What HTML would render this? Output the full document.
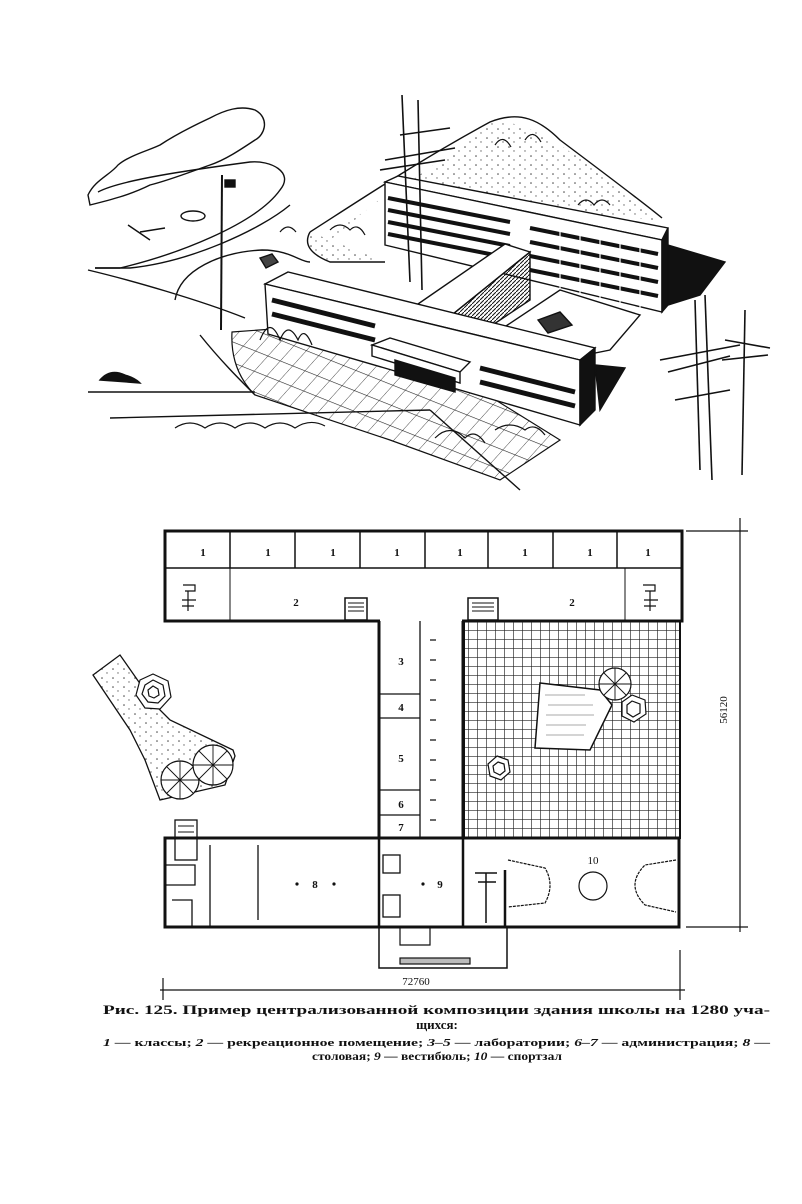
<!DOCTYPE html>
<html><head><meta charset="utf-8"><style>
html,body{margin:0;padding:0;background:#fff;}
svg{display:block;}
text{font-family:"Liberation Serif",serif;fill:#111;}
</style></head><body>
<svg width="802" height="1204" viewBox="0 0 802 1204" xmlns="http://www.w3.org/2000/svg">
<defs>
<pattern id="grid" width="9" height="9" patternUnits="userSpaceOnUse">
<path d="M0 0H9M0 0V9" stroke="#222" stroke-width="1.3" fill="none"/>
</pattern>
<pattern id="dots" width="11" height="9" patternUnits="userSpaceOnUse">
<circle cx="3" cy="3" r="0.8" fill="#444"/><circle cx="8" cy="7" r="0.7" fill="#666"/>
</pattern>
<pattern id="pave" width="16" height="16" patternUnits="userSpaceOnUse" patternTransform="skewX(-30) rotate(18)">
<path d="M0 0H16M0 0V16" stroke="#222" stroke-width="1" fill="none"/>
</pattern>
<pattern id="hatch" width="4" height="4" patternUnits="userSpaceOnUse">
<path d="M0 4L4 0" stroke="#111" stroke-width="1"/>
</pattern>
</defs>
<g fill="none" stroke="#111" stroke-width="1.4">
<path d="M310 232 C360 200 420 160 490 122 C520 110 540 120 560 140 C600 170 640 200 662 218" />
<path d="M310 232 Q300 250 330 262 L385 262" fill="url(#dots)"/>
<path d="M330 232 C370 210 430 170 490 122 C530 115 600 170 655 220 L385 195 L330 240Z" fill="url(#dots)" stroke="none"/>
<path d="M98 192 C120 180 190 170 250 162 C270 160 295 172 280 190 C255 225 175 255 120 268 L95 268"/>
<path d="M95 268 L130 268 C190 262 260 230 290 205"/>
<path d="M88 270 C130 280 200 300 245 318"/>
<path d="M175 300 C180 270 220 252 262 250 C290 250 300 262 310 262"/>
<path d="M200 335 C220 360 240 380 255 395"/>
<path d="M88 392 L255 392"/>
<path d="M110 418 L430 410"/>
<path d="M88 195 C95 180 110 175 118 165 C130 155 150 150 160 145 C175 135 195 125 210 118 C225 110 240 105 255 110 C270 118 265 135 255 140 C240 150 225 160 210 165 C190 172 170 180 150 185 C130 195 110 200 90 205Z"/>
<ellipse cx="193" cy="216" rx="12" ry="5"/>
<path d="M128 225 L150 240 M140 232 L165 228" />
<path d="M222 175 L221 330" stroke-width="2"/>
<rect x="225" y="180" width="10" height="7" fill="#111"/>
<path d="M232 332 L370 322 L560 440 L500 480 L390 440 L255 395 Q230 370 232 332Z" fill="url(#pave)" stroke-width="1.2"/>
<path d="M430 410 L520 490" />
<polygon points="385,182 398,176 668,228 662,240" fill="#fff"/>
<polygon points="385,182 662,240 662,312 385,245" fill="#fff"/>
<polygon points="662,240 668,228 668,305 662,312" fill="#111"/>
<polygon points="668,245 725,262 700,295 668,305" fill="#111"/>
<g stroke="#111" stroke-width="4">
<path d="M388 198 L510 222"/><path d="M388 210 L510 234"/><path d="M388 222 L510 246"/><path d="M388 234 L510 258"/>
<path d="M530 228 L658 254"/><path d="M530 242 L658 268"/><path d="M530 256 L658 282"/><path d="M530 270 L658 296"/>
</g>
<g stroke="#fff" stroke-width="1.2">
<path d="M560 228 V300 M580 232 V302 M600 236 V305 M620 240 V308 M640 244 V310"/>
</g>
<polygon points="418,304 505,244 530,252 448,318" fill="#fff"/>
<polygon points="448,318 530,252 530,300 470,340" fill="url(#hatch)"/>
<polygon points="500,330 560,290 640,315 610,350 560,360" fill="#fff"/>
<polygon points="538,320 560,312 572,325 548,333" fill="#333"/>
<polygon points="265,284 288,272 595,348 580,360" fill="#fff"/>
<polygon points="265,284 580,360 580,425 268,334" fill="#fff"/>
<g stroke="#111" stroke-width="5">
<path d="M272 300 L375 326"/><path d="M272 314 L375 340"/>
<path d="M480 368 L575 392"/><path d="M480 382 L575 406"/>
</g>
<polygon points="580,360 595,348 595,410 580,425" fill="#111"/>
<polygon points="595,365 625,368 600,410" fill="#111"/>
<polygon points="372,345 390,338 470,362 460,372" fill="#fff"/>
<polygon points="372,345 460,372 460,383 372,356" fill="#fff"/>
<polygon points="395,360 455,378 455,392 395,375" fill="#111"/>
<g stroke-width="1.6">
<path d="M402 95 L410 282"/><path d="M418 100 L422 290"/>
<path d="M385 160 L455 148 M380 170 L445 160 M400 135 L450 128"/>
<path d="M695 300 L700 470"/><path d="M705 295 L712 480"/><path d="M745 310 L742 475"/>
<path d="M660 360 L740 345 M668 372 L730 356 M675 400 L730 390 M725 340 L770 348 M722 360 L768 355"/>
</g>
<g stroke-width="1.2">
<path d="M260 340 q10 -25 20 0 q8 -20 18 0 q6 -15 14 5"/>
<path d="M175 428 q15 -10 30 0 q15 -10 30 0 q15 -10 30 0 q15 -10 30 0 q15 -10 30 -2"/>
<path d="M435 438 q15 -15 30 0 q10 -10 20 5"/>
<path d="M495 430 q15 -10 30 0 q10 -8 20 5"/>
<path d="M525 140 q8 -12 16 2 M495 145 q8 -12 16 2 M578 205 q8 -10 16 0 q8 -10 16 0"/>
<path d="M330 230 q10 -10 20 0 q8 -8 15 5 M280 232 q8 -10 16 0"/>
</g>
<path d="M100 380 q10 -12 25 -5 q10 3 15 8 z" fill="#111"/>
<path d="M260 258 l12 -4 l6 8 l-12 6z" fill="#444"/>
</g>

<g fill="none" stroke="#111">
<polygon points="93,675 120,655 155,705 170,720 233,750 235,756 225,785 160,800 145,760 130,730" fill="url(#dots)" stroke-width="1.3"/>
<g stroke-width="1.2" fill="#fff">
<polygon points="153,674 168,681 171,697 160,709 145,708 136,695 140,680"/>
<polygon points="153,680 163,685 165,696 158,703 148,702 142,694 145,685"/>
<polygon points="153,686 158,689 159,695 154,698 149,696 148,690"/>
<circle cx="180" cy="780" r="19"/><circle cx="213" cy="765" r="20"/>
</g>
<g stroke-width="0.9">
<path d="M161 780H199M180 761V799M167 767L193 793M193 767L167 793"/>
<path d="M193 765H233M213 745V785M199 751L227 779M227 751L199 779"/>
</g>
<rect x="165" y="531" width="517" height="90" stroke-width="3"/>
<path d="M165 568H682" stroke-width="1.5"/>
<path d="M230 531V568M295 531V568M360 531V568M425 531V568M488 531V568M553 531V568M617 531V568" stroke-width="1.5"/>
<path d="M230 568V621" stroke-width="1"/>
<path d="M625 568V621" stroke-width="1"/>
<rect x="345" y="598" width="22" height="22" stroke-width="1.5"/>
<path d="M348 603H364M348 607H364M348 611H364" stroke-width="1"/>
<rect x="468" y="598" width="30" height="22" stroke-width="1.5"/>
<path d="M472 603H494M472 607H494M472 611H494" stroke-width="1"/>
<path d="M183 585h12v6h-10 M188 591v20 M182 600h14 M182 606h12" stroke-width="1.2"/>
<path d="M643 585h12v6h-10 M650 591v20 M644 600h14 M644 606h12" stroke-width="1.2"/>
<path d="M380 621H462" stroke="#fff" stroke-width="4"/>
<path d="M379 621V838" stroke-width="3"/>
<path d="M463 621V838" stroke-width="3"/>
<path d="M420 621V838" stroke-width="1.3"/>
<path d="M379 694H420M379 718H420M379 790H420M379 815H420" stroke-width="1.3"/>
<path d="M430 640h6M430 660h6M430 680h6M430 700h6M430 720h6M430 740h6M430 760h6M430 780h6M430 800h6M430 820h6" stroke-width="1.2"/>
<rect x="464" y="621" width="216" height="217" fill="url(#grid)" stroke-width="2"/>
<polygon points="540,683 600,690 612,705 590,750 535,748" fill="#fff" stroke-width="1.5"/>
<path d="M545 695h40M548 705h45M546 715h48M546 725h40M546 735h38" stroke-width="0.6" stroke="#555"/>
<g stroke-width="1.2" fill="#fff">
<circle cx="615" cy="684" r="16"/>
<path d="M599 684H631M615 668V700M604 673L626 695M626 673L604 695" stroke-width="0.9"/>
<polygon points="632,695 645,700 646,714 634,722 622,716 622,702"/>
<polygon points="632,701 640,704 640,713 633,717 627,713 627,705"/>
<polygon points="497,756 508,760 510,772 501,780 490,776 488,764"/>
<polygon points="498,762 504,764 505,771 500,775 494,772 493,766"/>
</g>
<rect x="165" y="838" width="514" height="89" stroke-width="3"/>
<path d="M379 838V927M463 838V927M505 870V927" stroke-width="2.5"/>
<path d="M210 845V927M258 845V920" stroke-width="1.3"/>
<path d="M165 865h30v20h-30 M172 900h20v27" stroke-width="1.3"/>
<rect x="175" y="820" width="22" height="40" stroke-width="1.3"/>
<path d="M178 826h16M178 832h16M178 838h16" stroke-width="1"/>
<rect x="383" y="855" width="17" height="18" stroke-width="1.3"/>
<rect x="383" y="895" width="17" height="22" stroke-width="1.3"/>
<path d="M475 873h22M486 873v50M478 882h18" stroke-width="1.5"/>
<path d="M508 860 L545 868 Q555 885 545 903 L508 907" stroke-width="1.2" stroke-dasharray="3 1"/>
<path d="M676 860 L645 865 Q625 885 645 905 L676 912" stroke-width="1.2" stroke-dasharray="3 1"/>
<circle cx="593" cy="886" r="14" stroke-width="1.2"/>
<path d="M379 927V968H507V927" stroke-width="1.5"/>
<path d="M400 927v18h30v-18" stroke-width="1.2"/>
<rect x="400" y="958" width="70" height="6" fill="#bbb" stroke-width="1.2"/>
<path d="M686 531H748M686 927H748M740 518V932" stroke-width="1.2"/>
<path d="M160 990H685M163 978V1000M680 950V1000" stroke-width="1.2"/>
</g>
<g font-size="11" font-weight="bold" text-anchor="middle" style="font-family:'Liberation Sans',sans-serif">
<text x="203" y="556">1</text><text x="268" y="556">1</text><text x="333" y="556">1</text><text x="397" y="556">1</text><text x="460" y="556">1</text><text x="525" y="556">1</text><text x="590" y="556">1</text><text x="648" y="556">1</text>
<text x="296" y="606">2</text><text x="572" y="606">2</text>
<text x="401" y="665">3</text><text x="401" y="711">4</text><text x="401" y="762">5</text><text x="401" y="808">6</text><text x="401" y="831">7</text>
<text x="315" y="888">8</text><text x="440" y="888">9</text>
<text x="593" y="864" font-weight="normal">10</text>
<text x="416" y="985" font-weight="normal">72760</text>
<text x="0" y="0" font-weight="normal" transform="translate(727,710) rotate(-90)">56120</text>
</g>
<g fill="#111"><circle cx="297" cy="884" r="1.6"/><circle cx="334" cy="884" r="1.6"/><circle cx="423" cy="884" r="1.6"/></g>

<text x="103" y="1014" font-size="13" font-weight="bold" textLength="667" lengthAdjust="spacingAndGlyphs">Рис. 125. Пример централизованной композиции здания школы на 1280 уча-</text>
<text x="437" y="1029" font-size="13" font-weight="bold" text-anchor="middle">щихся:</text>
<text x="103" y="1046" font-size="11" font-weight="bold" textLength="667" lengthAdjust="spacingAndGlyphs"><tspan font-style="italic">1</tspan> — классы; <tspan font-style="italic">2</tspan> — рекреационное помещение; <tspan font-style="italic">3–5</tspan> — лаборатории; <tspan font-style="italic">6–7</tspan> — администрация; <tspan font-style="italic">8</tspan> —</text>
<text x="437" y="1060" font-size="11.5" font-weight="bold" text-anchor="middle" textLength="250" lengthAdjust="spacingAndGlyphs">столовая; <tspan font-style="italic">9</tspan> — вестибюль; <tspan font-style="italic">10</tspan> — спортзал</text>
</svg>
</body></html>
